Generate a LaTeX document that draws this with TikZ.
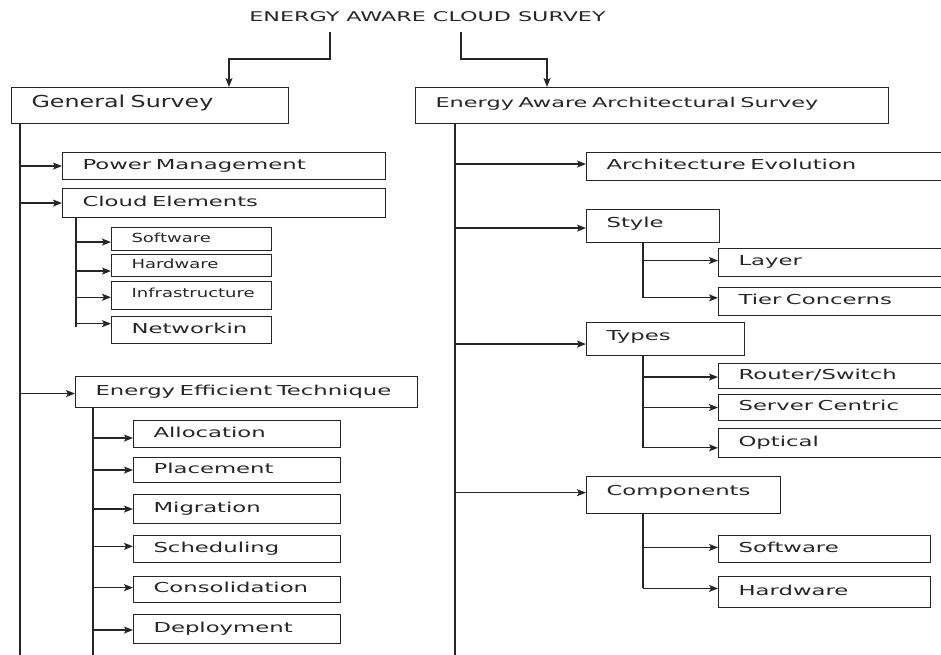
\documentclass[tikz,border=0pt]{standalone}
\usepackage{fontspec}
\newfontfamily\wfont[FakeStretch=1.66]{DejaVu Sans}
\newfontfamily\gfont[FakeStretch=1.44]{DejaVu Sans}
\usetikzlibrary{arrows.meta}
\begin{document}
\begin{tikzpicture}[x=1pt,y=-1pt,
  bx/.style 2 args={draw=black!85, line width=1.1pt, minimum width=#1pt, minimum height=#2pt,
    anchor=north west, inner xsep=20pt, inner ysep=0pt, text width=#1pt-40pt, align=left,
    text height=10pt, text depth=4pt, text=black!85,
    execute at begin node={\hbox\bgroup}, execute at end node={\egroup}},
  std/.style={font=\wfont\fontsize{13.7}{16}\selectfont},
  eaa/.style={font=\wfont\fontsize{13.5}{16}\selectfont},
  gen/.style={font=\gfont\fontsize{16.5}{19}\selectfont, text depth=7pt},
  sml/.style={font=\gfont\fontsize{12.5}{14}\selectfont},
  ttl/.style={font=\wfont\fontsize{13.4}{16}\selectfont, text=black!85, inner sep=0pt},
  ln/.style={draw=black!85, line width=1.4pt},
  arr/.style={ln, line width=1.2pt, -{Stealth[length=9pt,width=7pt,inset=2pt]}}
]
\useasboundingbox (0,0) rectangle (941,654);
\clip (0,0) rectangle (941,654);

% title
\node[ttl] (title) at (427.5,16.5) {ENERGY AWARE CLOUD SURVEY};

% level 1
\node[bx={277}{36}, gen] (gs) at (11,87) {General Survey};
\node[bx={473}{36}, eaa, text depth=7pt] (eaas) at (415,87) {Energy Aware Architectural Survey};

\coordinate (tL) at (330,32); \coordinate (tLm) at (330,59); \coordinate (gsIn) at (229,87);
\coordinate (tR) at (461,32); \coordinate (tRm) at (461,59); \coordinate (eaIn) at (547,87);
\draw[arr] (tL) -- (tLm) -| (gsIn);
\draw[arr] (tR) -- (tRm) -| (eaIn);

% left branch
\node[bx={323}{27}, std] (pm) at (62,152) {Power Management};
\node[bx={323}{29}, std] (ce) at (62,188) {Cloud Elements};
\node[bx={160}{23}, sml] (sw1) at (111,227) {Software};
\node[bx={160}{22}, sml] (hw1) at (111,254) {Hardware};
\node[bx={160}{28}, sml, text depth=7pt] (inf) at (111,281) {Infrastructure};
\node[bx={160}{27}, std] (net) at (111,316) {Networkin};
\node[bx={342}{31}, std] (eet) at (75,376) {Energy Efficient Technique};
\node[bx={207}{27}, std] (alloc) at (133,420) {Allocation};
\node[bx={207}{25}, std] (place) at (133,457) {Placement};
\node[bx={207}{29}, std] (migr) at (133,494) {Migration};
\node[bx={207}{27}, std] (sched) at (133,535) {Scheduling};
\node[bx={207}{26}, std] (cons) at (133,576) {Consolidation};
\node[bx={207}{29}, std] (depl) at (133,614) {Deployment};

\coordinate (gsT) at (20,123); \coordinate (gsB) at (20,660);
\draw[ln] (gsT) -- (gsB);
\draw[arr] (gsT |- pm.west) -- (pm.west);
\draw[arr] (gsT |- ce.west) -- (ce.west);
\coordinate (eetA) at ([yshift=-1.5pt]eet.west);
\draw[arr] (gsT |- eetA) -- (eetA);

\coordinate (ceT) at (76,217); \coordinate (ceB) at (76,327);
\draw[ln] (ceT) -- (ceB);
\coordinate (sw1A) at ([yshift=-3pt]sw1.west);
\coordinate (hw1A) at ([yshift=-5.5pt]hw1.west);
\coordinate (infA) at ([yshift=-1.7pt]inf.west);
\coordinate (netA) at ([yshift=6.4pt]net.west);
\draw[arr] (ceT |- sw1A) -- (sw1A);
\draw[arr] (ceT |- hw1A) -- (hw1A);
\draw[arr] (ceT |- infA) -- (infA);
\draw[arr] (ceT |- netA) -- (netA);

\coordinate (eetT) at (93,407); \coordinate (eetB) at (93,660);
\draw[ln] (eetT) -- (eetB);
\coordinate (allocA) at ([yshift=-4pt]alloc.west);
\coordinate (placeA) at (place.west);
\coordinate (migrA) at (migr.west);
\coordinate (schedA) at ([yshift=2.7pt]sched.west);
\coordinate (consA) at ([yshift=1.9pt]cons.west);
\coordinate (deplA) at ([yshift=-1pt]depl.west);
\draw[arr] (eetT |- allocA) -- (allocA);
\draw[arr] (eetT |- placeA) -- (placeA);
\draw[arr] (eetT |- migrA) -- (migrA);
\draw[arr] (eetT |- schedA) -- (schedA);
\draw[arr] (eetT |- consA) -- (consA);
\draw[arr] (eetT |- deplA) -- (deplA);

% right branch
\node[bx={374}{28}, std] (ae) at (586,152) {Architecture Evolution};
\node[bx={133}{33}, std, text depth=8pt] (sty) at (586,209) {Style};
\node[bx={242}{28}, std] (lay) at (718,248) {Layer};
\node[bx={242}{28}, std] (tier) at (718,287) {Tier Concerns};
\node[bx={158}{33}, std, text depth=8pt] (typ) at (586,322) {Types};
\node[bx={242}{25}, std] (rout) at (718,363) {Router/Switch};
\node[bx={242}{26}, std] (serv) at (718,394) {Server Centric};
\node[bx={242}{29}, std] (opt) at (718,428) {Optical};
\node[bx={194}{37}, std, text depth=10pt] (comp) at (586,476) {Components};
\node[bx={212}{27}, std] (sw2) at (718,535) {Software};
\node[bx={212}{31}, std] (hw2) at (718,576) {Hardware};

\coordinate (eaT) at (455,123); \coordinate (eaB) at (455,660);
\draw[ln] (eaT) -- (eaB);
\coordinate (aeA) at ([yshift=2.5pt]ae.west);
\coordinate (styA) at ([yshift=-2pt]sty.west);
\coordinate (typA) at ([yshift=-5pt]typ.west);
\coordinate (compA) at ([yshift=2.4pt]comp.west);
\draw[arr] (eaT |- aeA) -- (aeA);
\draw[arr] (eaT |- styA) -- (styA);
\draw[arr] (eaT |- typA) -- (typA);
\draw[arr] (eaT |- compA) -- (compA);

\coordinate (styT) at (643,242);
\coordinate (layA) at ([yshift=2pt]lay.west);
\coordinate (tierA) at ([yshift=3.7pt]tier.west);
\draw[ln] (styT) -- (styT |- tierA);
\draw[arr] (styT |- layA) -- (layA);
\draw[arr] (styT |- tierA) -- (tierA);

\coordinate (typT) at (643,355);
\coordinate (routA) at ([yshift=-1pt]rout.west);
\coordinate (servA) at (serv.west);
\coordinate (optA) at ([yshift=-4.8pt]opt.west);
\draw[ln] (typT) -- (typT |- optA);
\draw[arr] (typT |- routA) -- (routA);
\draw[arr] (typT |- servA) -- (servA);
\draw[arr] (typT |- optA) -- (optA);

\coordinate (compT) at (643,513);
\coordinate (sw2A) at ([yshift=1.6pt]sw2.west);
\coordinate (hw2A) at ([yshift=3.6pt]hw2.west);
\draw[ln] (compT) -- (compT |- hw2A);
\draw[arr] (compT |- sw2A) -- (sw2A);
\draw[arr] (compT |- hw2A) -- (hw2A);
\end{tikzpicture}
\end{document}
